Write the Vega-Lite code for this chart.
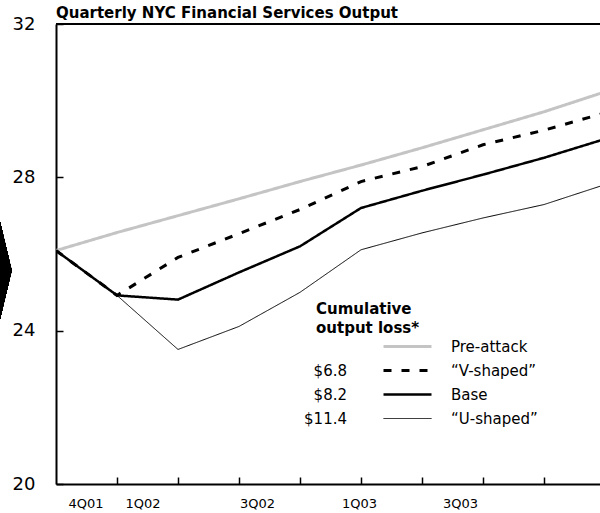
{
  "$schema": "https://vega.github.io/schema/vega-lite/v6.json",
  "width": 544,
  "height": 460,
  "autosize": {"type": "none"},
  "padding": {"left": 56, "top": 24, "right": 0, "bottom": 29},
  "background": "white",
  "config": {"view": {"stroke": null}},
  "title": {
    "text": "Quarterly NYC Financial Services Output",
    "anchor": "start",
    "frame": "group",
    "font": "DejaVu Sans",
    "fontSize": 15,
    "fontWeight": "bold",
    "color": "#000000",
    "baseline": "alphabetic",
    "offset": -18
  },
  "data": {
    "values": [
      {"q": 0, "series": "Pre-attack", "loss": " ", "value": 26.09},
      {"q": 1, "series": "Pre-attack", "loss": " ", "value": 26.56},
      {"q": 2, "series": "Pre-attack", "loss": " ", "value": 27.0},
      {"q": 3, "series": "Pre-attack", "loss": " ", "value": 27.44},
      {"q": 4, "series": "Pre-attack", "loss": " ", "value": 27.89},
      {"q": 5, "series": "Pre-attack", "loss": " ", "value": 28.32},
      {"q": 6, "series": "Pre-attack", "loss": " ", "value": 28.77},
      {"q": 7, "series": "Pre-attack", "loss": " ", "value": 29.24},
      {"q": 8, "series": "Pre-attack", "loss": " ", "value": 29.71},
      {"q": 9, "series": "Pre-attack", "loss": " ", "value": 30.23},
      {"q": 0, "series": "“V-shaped”", "loss": "$6.8", "value": 26.09},
      {"q": 1, "series": "“V-shaped”", "loss": "$6.8", "value": 24.92},
      {"q": 2, "series": "“V-shaped”", "loss": "$6.8", "value": 25.91},
      {"q": 3, "series": "“V-shaped”", "loss": "$6.8", "value": 26.53},
      {"q": 4, "series": "“V-shaped”", "loss": "$6.8", "value": 27.16},
      {"q": 5, "series": "“V-shaped”", "loss": "$6.8", "value": 27.89},
      {"q": 6, "series": "“V-shaped”", "loss": "$6.8", "value": 28.28},
      {"q": 7, "series": "“V-shaped”", "loss": "$6.8", "value": 28.85},
      {"q": 8, "series": "“V-shaped”", "loss": "$6.8", "value": 29.23},
      {"q": 9, "series": "“V-shaped”", "loss": "$6.8", "value": 29.68},
      {"q": 0, "series": "Base", "loss": "$8.2", "value": 26.09},
      {"q": 1, "series": "Base", "loss": "$8.2", "value": 24.92},
      {"q": 2, "series": "Base", "loss": "$8.2", "value": 24.81},
      {"q": 3, "series": "Base", "loss": "$8.2", "value": 25.52},
      {"q": 4, "series": "Base", "loss": "$8.2", "value": 26.2},
      {"q": 5, "series": "Base", "loss": "$8.2", "value": 27.2},
      {"q": 6, "series": "Base", "loss": "$8.2", "value": 27.65},
      {"q": 7, "series": "Base", "loss": "$8.2", "value": 28.07},
      {"q": 8, "series": "Base", "loss": "$8.2", "value": 28.51},
      {"q": 9, "series": "Base", "loss": "$8.2", "value": 29.0},
      {"q": 0, "series": "“U-shaped”", "loss": "$11.4", "value": 26.09},
      {"q": 1, "series": "“U-shaped”", "loss": "$11.4", "value": 24.92},
      {"q": 2, "series": "“U-shaped”", "loss": "$11.4", "value": 23.51},
      {"q": 3, "series": "“U-shaped”", "loss": "$11.4", "value": 24.11},
      {"q": 4, "series": "“U-shaped”", "loss": "$11.4", "value": 25.0},
      {"q": 5, "series": "“U-shaped”", "loss": "$11.4", "value": 26.11},
      {"q": 6, "series": "“U-shaped”", "loss": "$11.4", "value": 26.55},
      {"q": 7, "series": "“U-shaped”", "loss": "$11.4", "value": 26.94},
      {"q": 8, "series": "“U-shaped”", "loss": "$11.4", "value": 27.29},
      {"q": 9, "series": "“U-shaped”", "loss": "$11.4", "value": 27.81}
    ]
  },
  "resolve": {"axis": {"x": "independent", "y": "independent"}},
  "layer": [
    {
      "mark": {"type": "line", "clip": true, "strokeCap": "butt", "strokeJoin": "miter"},
      "encoding": {
        "x": {
          "field": "q",
          "type": "quantitative",
          "scale": {"domain": [0, 8.918], "nice": false, "zero": false},
          "axis": {
            "orient": "bottom",
            "title": null,
            "values": [1, 2, 3, 4, 5, 6, 7, 8],
            "labels": false,
            "grid": false,
            "ticks": true,
            "tickSize": -7,
            "tickWidth": 1.5,
            "tickColor": "#000000",
            "domain": true,
            "domainColor": "#000000",
            "domainWidth": 2
          }
        },
        "y": {
          "field": "value",
          "type": "quantitative",
          "scale": {"domain": [20, 32], "nice": false, "zero": false},
          "axis": {
            "orient": "left",
            "title": null,
            "values": [20, 24, 28, 32],
            "grid": false,
            "tickSize": -7,
            "tickWidth": 1.5,
            "tickColor": "#000000",
            "domainColor": "#000000",
            "domainWidth": 2,
            "labelFont": "DejaVu Sans",
            "labelFontSize": 18,
            "labelColor": "#000000",
            "labelPadding": 28,
            "labelAlign": "right",
            "labelBaseline": "middle",
            "labelFlush": false
          }
        },
        "color": {
          "field": "series",
          "type": "nominal",
          "scale": {
            "domain": ["Pre-attack", "“V-shaped”", "Base", "“U-shaped”"],
            "range": ["#c4c4c4", "#000000", "#000000", "#000000"]
          },
          "legend": {
            "orient": "none",
            "legendX": 344,
            "legendY": 315,
            "title": null,
            "padding": 0,
            "symbolType": "M-4,0L4,0",
            "symbolSize": 144,
            "labelFont": "DejaVu Sans",
            "labelFontSize": 15,
            "labelColor": "#000000",
            "labelOffset": 36,
            "rowPadding": 8,
            "encode": {
              "symbols": {
                "update": {
                  "strokeDash": {"signal": "datum.value === '“V-shaped”' ? [14, 9] : [1, 0]"},
                  "strokeWidth": {"signal": "datum.value === 'Base' ? 3.5 : datum.value === '“U-shaped”' ? 1.5 : 3.5"}
                }
              }
            }
          }
        },
        "strokeDash": {
          "field": "series",
          "type": "nominal",
          "scale": {
            "domain": ["Pre-attack", "“V-shaped”", "Base", "“U-shaped”"],
            "range": [[1, 0], [8, 10], [1, 0], [1, 0]]
          }
        },
        "strokeWidth": {
          "field": "series",
          "type": "nominal",
          "scale": {
            "type": "ordinal",
            "domain": ["Pre-attack", "“V-shaped”", "Base", "“U-shaped”"],
            "range": [3, 3, 2.5, 1]
          }
        },
        "opacity": {
          "field": "loss",
          "type": "nominal",
          "scale": {
            "type": "ordinal",
            "domain": [" ", "$6.8", "$8.2", "$11.4"],
            "range": [1, 1, 1, 1]
          },
          "legend": {
            "orient": "none",
            "legendX": 260,
            "legendY": 278,
            "padding": 0,
            "title": ["Cumulative", "output loss*"],
            "titleFont": "DejaVu Sans",
            "titleFontWeight": "bold",
            "titleFontSize": 15,
            "titleLineHeight": 19,
            "titleColor": "#000000",
            "titlePadding": 3,
            "symbolType": "circle",
            "symbolSize": 0,
            "symbolStrokeWidth": 0,
            "labelAlign": "right",
            "labelOffset": 16,
            "labelFont": "DejaVu Sans",
            "labelFontSize": 15,
            "labelColor": "#000000",
            "rowPadding": 8
          }
        }
      }
    },
    {
      "mark": {"type": "point", "filled": true, "color": "#000000", "opacity": 1, "shape": "M0,-1L0.24,0L0,1Z", "size": 9409},
      "encoding": {
        "x": {
          "datum": -0.918,
          "type": "quantitative",
          "scale": {"domain": [0, 8.918], "nice": false, "zero": false},
          "axis": {
            "orient": "bottom",
            "title": null,
            "values": [0.484, 1.418, 3.295, 4.967, 6.623],
            "labelExpr": "datum.value < 1 ? '4Q01' : datum.value < 2 ? '1Q02' : datum.value < 4 ? '3Q02' : datum.value < 6 ? '1Q03' : '3Q03'",
            "ticks": false,
            "domain": false,
            "grid": false,
            "labelFont": "DejaVu Sans",
            "labelFontSize": 13,
            "labelColor": "#000000",
            "labelPadding": 13,
            "labelFlush": false,
            "labelOverlap": false
          }
        },
        "y": {"datum": 25.57, "type": "quantitative", "axis": null}
      }
    },
    {
      "mark": {"type": "rule", "color": "#000000", "strokeWidth": 2},
      "encoding": {"y": {"datum": 32, "type": "quantitative", "axis": null}}
    }
  ]
}
